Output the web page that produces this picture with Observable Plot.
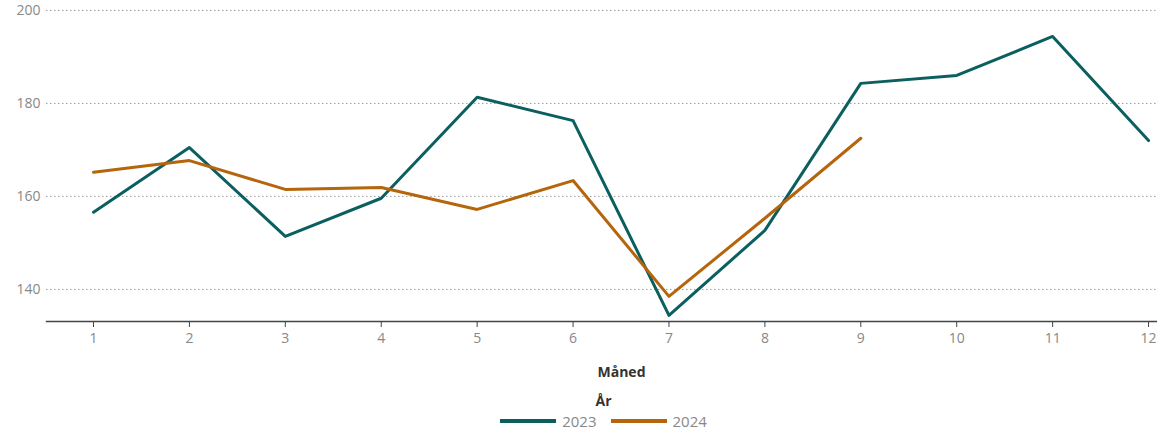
<!DOCTYPE html>
<html>
<head>
<meta charset="utf-8">
<script src="https://cdn.jsdelivr.net/npm/d3@7"></script>
<script src="https://cdn.jsdelivr.net/npm/@observablehq/plot@0.6"></script>
<style>
  html, body { margin: 0; background: #fff; font-family: "Open Sans", sans-serif; overflow: hidden; width: 1157px; }
  #chart { width: 1157px; overflow: hidden; }
  #chart svg { display: block; max-width: none !important; width: 1196px !important; height: 388px !important; }
  g[aria-label="x-axis label"] text { font-weight: bold; fill: #333; }
  #legend { width: 1157px; text-align: center; font-family: "Open Sans", sans-serif; margin-top: 4px; padding-left: 50px; box-sizing: border-box; }
  #legend .title { font-weight: bold; font-size: 14px; color: #333; line-height: 18px; }
  #legend .items { font-size: 15px; color: #888; line-height: 16px; margin-top: 0px; }
  #legend .item { display: inline-flex; align-items: center; margin: 0 7px; }
  #legend svg { margin-right: 6px; }
</style>
</head>
<body>
<div id="chart"></div>
<div id="legend"></div>
<script>
const months = [1,2,3,4,5,6,7,8,9,10,11,12];
const years = ["2023", "2024"];
const colors = ["#0b5f5f", "#b5650c"];
const values2023 = [156.6, 170.5, 151.4, 159.6, 181.3, 176.3, 134.4, 152.7, 184.3, 186.0, 194.4, 172.0];
const values2024 = [165.2, 167.7, 161.5, 161.9, 157.2, 163.4, 138.5, 155.3, 172.5];
const yTicks = [140, 160, 180, 200];

const data = [
  ...values2023.map((v, i) => ({month: months[i], value: v, year: years[0]})),
  ...values2024.map((v, i) => ({month: months[i], value: v, year: years[1]}))
];

const chart = Plot.plot({
  width: 1196,
  height: 388,
  marginLeft: 46,
  marginRight: 0,
  marginTop: 8,
  marginBottom: 67,
  style: {fontFamily: "Open Sans, sans-serif", fontSize: "14px", color: "#888", overflow: "visible"},
  x: {domain: [0.51, 12.5]},
  y: {domain: [133.1, 200.4]},
  color: {domain: years, range: colors},
  marks: [
    Plot.gridY(yTicks, {stroke: "#999", strokeOpacity: 1, strokeDasharray: "1.5,2.5", strokeWidth: 1}),
    Plot.axisY(yTicks, {tickSize: 0, tickPadding: 6, label: null, fill: "#888", fontSize: 14}),
    Plot.axisX(months, {tickSize: 6, stroke: "#444", fill: "#888", fontSize: 14, tickPadding: 6,
      label: "Måned", labelAnchor: "center", labelArrow: "none", labelOffset: 55}),
    Plot.frame({anchor: "bottom", stroke: "#444", strokeWidth: 1.5}),
    Plot.line(data, {x: "month", y: "value", z: "year", stroke: "year", strokeWidth: 3})
  ]
});
document.getElementById("chart").append(chart);

const legend = document.getElementById("legend");
legend.innerHTML = `<div class="title">År</div><div class="items">` +
  years.map((y, i) => `<span class="item"><svg width="56" height="6"><line x1="0" x2="56" y1="3" y2="3" stroke="${colors[i]}" stroke-width="4"/></svg>${y}</span>`).join("") +
  `</div>`;
</script>
</body>
</html>
